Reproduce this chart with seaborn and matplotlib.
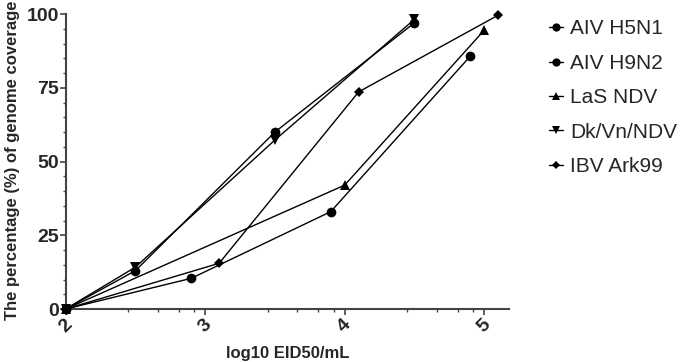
import matplotlib
matplotlib.use("Agg")
import matplotlib.pyplot as plt
import seaborn as sns
import numpy as np
import pandas as pd

# ---- data ----
series_names = ["AIV H5N1", "AIV H9N2", "LaS NDV", "Dk/Vn/NDV", "IBV Ark99"]
x_h5n1 = [2, 2.9, 3.9, 4.9]
y_h5n1 = [0, 10.4, 33, 85.7]
x_h9n2 = [2, 2.5, 3.5, 4.5]
y_h9n2 = [0, 13, 60, 97]
x_las = [2, 4, 5]
y_las = [0, 42, 94.5]
x_dk = [2, 2.5, 3.5, 4.5]
y_dk = [0, 14.2, 57.3, 98.2]
x_ibv = [2, 3.1, 4.1, 5.1]
y_ibv = [0, 15.5, 73.6, 99.6]
x_ticks = [2, 3, 4, 5]
y_ticks = [0, 25, 50, 75, 100]

xs = [x_h5n1, x_h9n2, x_las, x_dk, x_ibv]
ys = [y_h5n1, y_h9n2, y_las, y_dk, y_ibv]
markers = ["o", "o", "^", "v", "D"]
msizes = [7, 7, 7, 7, 5]

sns.set_style("ticks")
plt.rcParams["font.family"] = ["Liberation Sans", "DejaVu Sans"]

fig = plt.figure(figsize=(6.83, 3.62), dpi=100)
ax = fig.add_axes([0.0962, 0.1464, 0.6495, 0.8149])

for name, xv, yv, m, ms in zip(series_names, xs, ys, markers, msizes):
    df = pd.DataFrame({"x": xv, "y": yv})
    sns.lineplot(data=df, x="x", y="y", ax=ax, color="black", marker=m,
                 markersize=ms, markeredgewidth=0, linewidth=1.0,
                 label=name, sort=False, clip_on=False, zorder=3)

ax.set_xlim(2, 5.18)
ax.set_ylim(0, 100)
ax.set_xticks(x_ticks)
ax.set_yticks(y_ticks)
minor_x = [n + f for n in (2, 3, 4) for f in (0.45, 0.66, 0.81, 0.92)]
ax.set_xticks(minor_x, minor=True)
ax.set_yticks(np.arange(0, 101, 5), minor=True)
ax.set_xticklabels([str(t) for t in x_ticks], rotation=45, ha="center",
                   fontsize=14, fontweight="bold")
ax.set_yticklabels([str(t) for t in y_ticks], fontsize=14, fontweight="bold")

for side in ("top", "right"):
    ax.spines[side].set_visible(False)
for side in ("left", "bottom"):
    ax.spines[side].set_color("#444444")
    ax.spines[side].set_linewidth(1.5)

ax.tick_params(axis="both", which="major", length=4, width=1.2, color="#444444", pad=1)
ax.tick_params(axis="both", which="minor", length=2.5, width=1.0, color="#444444")

ax.set_xlabel("log10 EID50/mL", fontsize=12, fontweight="bold", labelpad=7.5)
ax.set_ylabel("The percentage (%) of genome coverage", fontsize=12, fontweight="bold")
ax.yaxis.set_label_coords(-0.103, 0.505)

ax.legend(loc="upper left", bbox_to_anchor=(0.788, 0.975),
          bbox_transform=fig.transFigure, frameon=False, fontsize=15,
          handlelength=0.7, handletextpad=0.35, labelspacing=0.74,
          borderpad=0, markerscale=0.85)

fig.savefig("out.png", dpi=100)
